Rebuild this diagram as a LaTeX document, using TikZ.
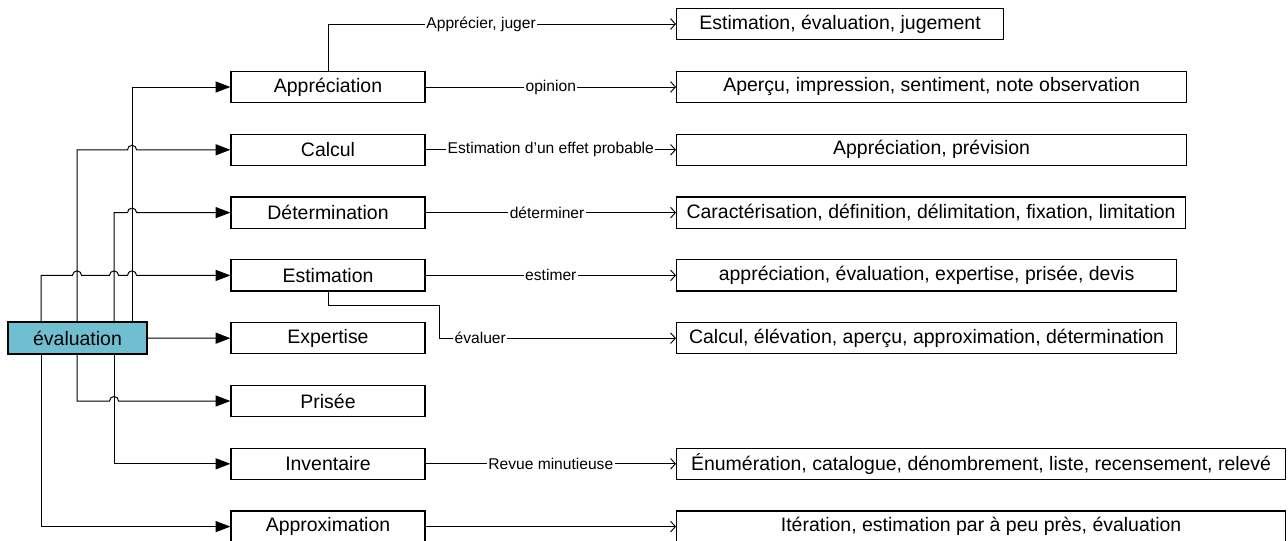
\documentclass[tikz,border=0pt]{standalone}
\usepackage{fontspec}
\setmainfont{Liberation Sans}
\usetikzlibrary{arrows.meta,calc}
\definecolor{evalfill}{RGB}{112,191,208}
\begin{document}
\begin{tikzpicture}[x=0.75pt,y=-0.75pt,
  box/.style={draw=black,line width=0.9pt,minimum height=23.4pt,inner sep=1pt,
    font=\fontsize{14.6}{17}\selectfont},
  midbox/.style={box,minimum width=145.5pt},
  rbox/.style={box,anchor=west},
  tree/.style={line width=0.75pt,-{Triangle[length=11pt,width=8.2pt]}},
  link/.style={line width=0.75pt,-{Straight Barb[length=3.6pt,width=8pt,line width=0.7pt]}},
  lbl/.style={fill=white,inner sep=1pt,font=\fontsize{11.7}{14}\selectfont}]
\useasboundingbox (0,0) rectangle (1288,540);

% root
\node[box,fill=evalfill,minimum width=104.25pt,minimum height=24pt] (eval) at (77.5,338) {évaluation};

% second column
\node[midbox] (appr) at (328,87)    {Appréciation};
\node[midbox] (calc) at (328,149.8) {Calcul};
\node[midbox] (dete) at (328,212.6) {Détermination};
\node[midbox] (esti) at (328,275.4) {Estimation};
\node[midbox] (expe) at (328,338.2) {Expertise};
\node[midbox] (pris) at (328,401)   {Prisée};
\node[midbox] (inve) at (328,463.8) {Inventaire};
\node[midbox] (appx) at (328,526.6) {Approximation};

% third column
\node[rbox,minimum width=245.25pt] (r0) at (676,24)    {Estimation, évaluation, jugement};
\node[rbox,minimum width=382.5pt]  (r1) at (676,87)    {Aperçu, impression, sentiment, note observation};
\node[rbox,minimum width=382.5pt]  (r2) at (676,149.8) {Appréciation, prévision};
\node[rbox,minimum width=381.75pt] (r3) at (676,212.6) {Caractérisation, définition, délimitation, fixation, limitation};
\node[rbox,minimum width=375pt]    (r4) at (676,275.4) {appréciation, évaluation, expertise, prisée, devis};
\node[rbox,minimum width=375pt]    (r5) at (676,338.2) {Calcul, élévation, aperçu, approximation, détermination};
\node[rbox,minimum width=456.75pt] (r6) at (676,463.8) {Énumération, catalogue, dénombrement, liste, recensement, relevé};
\node[rbox,minimum width=456.75pt] (r7) at (676,526.6) {Itération, estimation par à peu près, évaluation};

% trunk positions
\coordinate (tA) at (41,0);
\coordinate (tB) at (77,0);
\coordinate (tC) at (114,0);
\coordinate (tD) at (132,0);
\coordinate (bend) at (439,305.7);

% branches going up
\draw[tree] (eval.north -| tD) -- (tD |- appr.west) -- (appr.west);
\draw[tree] (eval.north -| tB) -- (tB |- calc.west)
  -- ($(tD |- calc.west)+(-4.5,0)$) arc[start angle=180,end angle=0,radius=3.4pt]
  -- (calc.west);
\draw[tree] (eval.north -| tC) -- (tC |- dete.west)
  -- ($(tD |- dete.west)+(-4.5,0)$) arc[start angle=180,end angle=0,radius=3.4pt]
  -- (dete.west);
\draw[tree] (eval.north -| tA) -- (tA |- esti.west)
  -- ($(tB |- esti.west)+(-4.5,0)$) arc[start angle=180,end angle=0,radius=3.4pt]
  -- ($(tC |- esti.west)+(-4.5,0)$) arc[start angle=180,end angle=0,radius=3.4pt]
  -- ($(tD |- esti.west)+(-4.5,0)$) arc[start angle=180,end angle=0,radius=3.4pt]
  -- (esti.west);
% straight branch
\draw[tree] (eval.east) -- (expe.west);
% branches going down
\draw[tree] (eval.south -| tB) -- (tB |- pris.west)
  -- ($(tC |- pris.west)+(-4.5,0)$) arc[start angle=180,end angle=0,radius=3.4pt]
  -- (pris.west);
\draw[tree] (eval.south -| tC) -- (tC |- inve.west) -- (inve.west);
\draw[tree] (eval.south -| tA) -- (tA |- appx.west) -- (appx.west);

% links to the third column
\draw[link] (appr.north) |- node[lbl,pos=0.72] {Apprécier, juger} (r0.west);
\draw[link] (appr.east) -- node[lbl,pos=0.5] {opinion} (r1.west);
\draw[link] (calc.east) -- node[lbl,pos=0.5] {Estimation d’un effet probable} (r2.west);
\draw[link] (dete.east) -- node[lbl,pos=0.485] {déterminer} (r3.west);
\draw[link] (esti.east) -- node[lbl,pos=0.5] {estimer} (r4.west);
\draw[link] (esti.south) |- (bend) |- node[lbl,pos=0.587] {évaluer} (r5.west);
\draw[link] (inve.east) -- node[lbl,pos=0.5] {Revue minutieuse} (r6.west);
\draw[link] (appx.east) -- (r7.west);
\end{tikzpicture}
\end{document}
